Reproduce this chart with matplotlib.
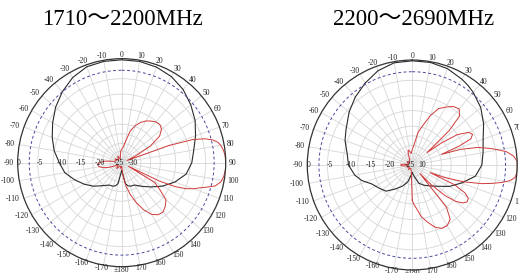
import numpy as np
import matplotlib
matplotlib.use("Agg")
import matplotlib.pyplot as plt

# ---- data (dB) ----
titles = ["1710～2200MHz", "2200～2690MHz"]

# left chart, black
ang_k1 = [-180, -175, -170, -165, -160, -150, -140, -130, -120, -110, -100, -90, -80, -70, -60, -50, -40, -30, -20, -10,
          0, 10, 20, 30, 40, 50, 60, 70, 80, 90, 100, 110, 120, 130, 140, 150, 160, 165, 170, 175, 180]
db_k1 = [-25, -24, -21.5, -20.8, -20.5, -20.3, -19.2, -17.5, -15.8, -14, -12, -10.8, -9.2, -7.8, -6.3, -4.6, -3.0, -1.5, -0.5, -0.3,
         -0.3, -0.3, -0.6, -1.2, -2.2, -3.6, -5.0, -6.6, -8.0, -8.8, -10.0, -12.3, -14.8, -17.2, -19.0, -20.3, -20.5, -20.8, -21.5, -24, -25]

# left chart, red
ang_r1 = [-180, -170, -160, -150, -140, -130, -120, -115, -110, -105, -100, -95, -90, -85, -80, -70, -60, -50, -40, -30, -20, -10, -5,
          0, 5, 10, 15, 20, 25, 30, 35, 40, 45, 50, 55, 60, 64, 68,
          70, 72, 74, 76, 78, 80, 83, 86, 90, 94, 98, 101, 104, 106, 108, 110, 112, 114, 116, 118,
          121, 125, 130, 135, 140, 145, 150, 155, 160, 165, 170, 175, 180]
db_r1 = [-26, -25.5, -26, -26, -25, -25.5, -26, -25, -23.5, -22, -21, -20.8, -21.2, -22.5, -25, -25.5, -25, -26, -25.5, -25, -26, -25, -24,
         -23.5, -23, -21.5, -18.5, -16.8, -15.5, -14.5, -13.8, -13.2, -13, -13.5, -15, -18.5, -23, -25.5,
         -14, -7.6, -4.5, -2.6, -1.5, -0.9, -0.4, -0.1, 0, 0, -0.3, -0.8, -2.0, -4.0, -5.8, -7.2, -9, -11.6, -16, -25,
         -17, -15, -12, -11, -10.3, -10.5, -11.5, -13.5, -16, -18.5, -21, -24, -26]

# right chart, black
ang_k2 = [-180, -175, -165, -155, -145, -135, -126, -115, -107, -100, -90, -80, -70, -62, -50, -40, -30, -20, -10,
          0, 10, 20, 30, 35, 40, 50, 60, 70, 80, 90, 100, 110, 120, 130, 140, 150, 160, 170, 180]
db_k2 = [-25, -24.5, -22.5, -21, -19.5, -17.5, -16.7, -15.5, -13.4, -12, -10.6, -10, -8.6, -7.7, -5.8, -4.2, -2.7, -1.2, -0.3,
         -0.2, -0.2, -0.6, -1.5, -2.0, -2.6, -4.0, -5.8, -7.6, -8.5, -9.1, -10.5, -13.5, -16, -18.5, -20, -21, -22, -24, -25]

# right chart, red
ang_r2 = [-180, -175, -170, -160, -150, -140, -130, -120, -110, -100, -95, -90, -85, -80, -70, -60, -50, -40, -30, -25, -20, -15, -10, -5,
          0, 5, 10, 15, 20, 25, 30, 35, 40, 44, 47, 50, 53, 56, 60, 63, 66, 68,
          70, 72, 75, 78, 80, 82, 85, 88, 91, 94, 97, 99, 101, 103, 105, 108, 111, 113,
          115, 118, 121, 124, 127, 130, 133, 136, 138, 141, 145, 150, 155, 160, 165, 170, 175, 178, 180]
db_r2 = [-18, -24.5, -25.5, -26, -26, -25.5, -26, -26, -25.5, -26, -24.5, -24, -24.5, -26, -26, -25.5, -26, -26, -25.5, -25.5, -24, -23, -23.5, -24,
         -23, -21.8, -18.5, -16.5, -13.5, -11, -9.8, -8.6, -8.2, -9.5, -14, -22, -17.5, -13, -10.2, -9.6, -10.5, -14,
         -19, -14, -9.5, -6.5, -4.5, -2.5, -0.8, 0, 0, 0, -0.4, -1.5, -3.5, -6, -8.5, -13, -18, -22,
         -15, -11.5, -10.2, -10, -10.8, -12.5, -15.5, -20, -24, -13, -10, -9, -9, -10, -11.8, -13.5, -16, -17, -18]

r_min, r_max = -27, 0
rings = [-24, -22, -19.5, -17, -13, -9.2, -5.2]
label_db = [-5, -10, -15, -20, -25]
label_txt = ["-5", "-10", "-15", "-20", "-25"]

serif = ["Liberation Serif", "DejaVu Serif"]
title_font = ["Liberation Serif", "Noto Sans CJK SC"]

fig = plt.figure(figsize=(5.19, 2.73), dpi=100)
fig.patch.set_facecolor("white")

boxes = [[0.0341, 0.0231, 0.4008, 0.762], [0.592, 0.0110, 0.4046, 0.769]]
data = [(ang_k1, db_k1, ang_r1, db_r1), (ang_k2, db_k2, ang_r2, db_r2)]
centre_lab = ["-30", "10"]

for i, box in enumerate(boxes):
    ax = fig.add_axes(box, projection="polar")
    ax.set_theta_zero_location("N")
    ax.set_theta_direction(-1)
    ax.set_rlim(r_min, r_max)
    ax.set_rticks(rings)
    ax.set_yticklabels([])
    ax.set_thetagrids(np.arange(0, 360, 10), labels=[])
    ax.grid(True, color="#d6d6d6", lw=0.6)
    ax.spines["polar"].set_color("#333333")
    ax.spines["polar"].set_linewidth(0.9)

    ak, dk, ar, dr = data[i]
    ax.plot(np.deg2rad(ak), dk, color="#2b2b2b", lw=0.8)
    ax.plot(np.deg2rad(ar), dr, color="#d23a3a", lw=0.7)
    th = np.linspace(0, 2 * np.pi, 361)
    ax.plot(th, np.full_like(th, -3.0), color="#4a4aa0", lw=0.7, ls=(0, (3, 2.5)))

    # angle labels, just outside the outer ring
    for a in range(-170, 190, 10):
        lab = "±180" if a == 180 else str(a)
        t = np.deg2rad(a)
        w = 2.6 * len(lab) + 1.5
        h = 4.0 if np.cos(t) > 0 else 3.0
        ax.annotate(lab, xy=(t, r_max), xytext=(np.sin(t) * w, np.cos(t) * h),
                    textcoords="offset pixels", fontsize=5.5, family=serif,
                    ha="center", va="center", color="#222222", annotation_clip=False)
    # radial labels along the left horizontal
    ax.text(np.deg2rad(-90), 0.2, "0", fontsize=5.5, family=serif, ha="left", va="center", color="#222222")
    for v, lab in zip(label_db, label_txt):
        ax.text(np.deg2rad(-90), v, lab, fontsize=5.5, family=serif, ha="left", va="center", color="#222222")
    ax.text(np.deg2rad(90), -25.5, centre_lab[i], fontsize=5.5, family=serif, ha="left", va="center", color="#222222")

fig.text(0.235, 0.929, titles[0], fontsize=16.5, family=title_font, ha="center", va="center")
fig.text(0.796, 0.929, titles[1], fontsize=16.5, family=title_font, ha="center", va="center")

fig.savefig("out.png", dpi=100, facecolor="white")
